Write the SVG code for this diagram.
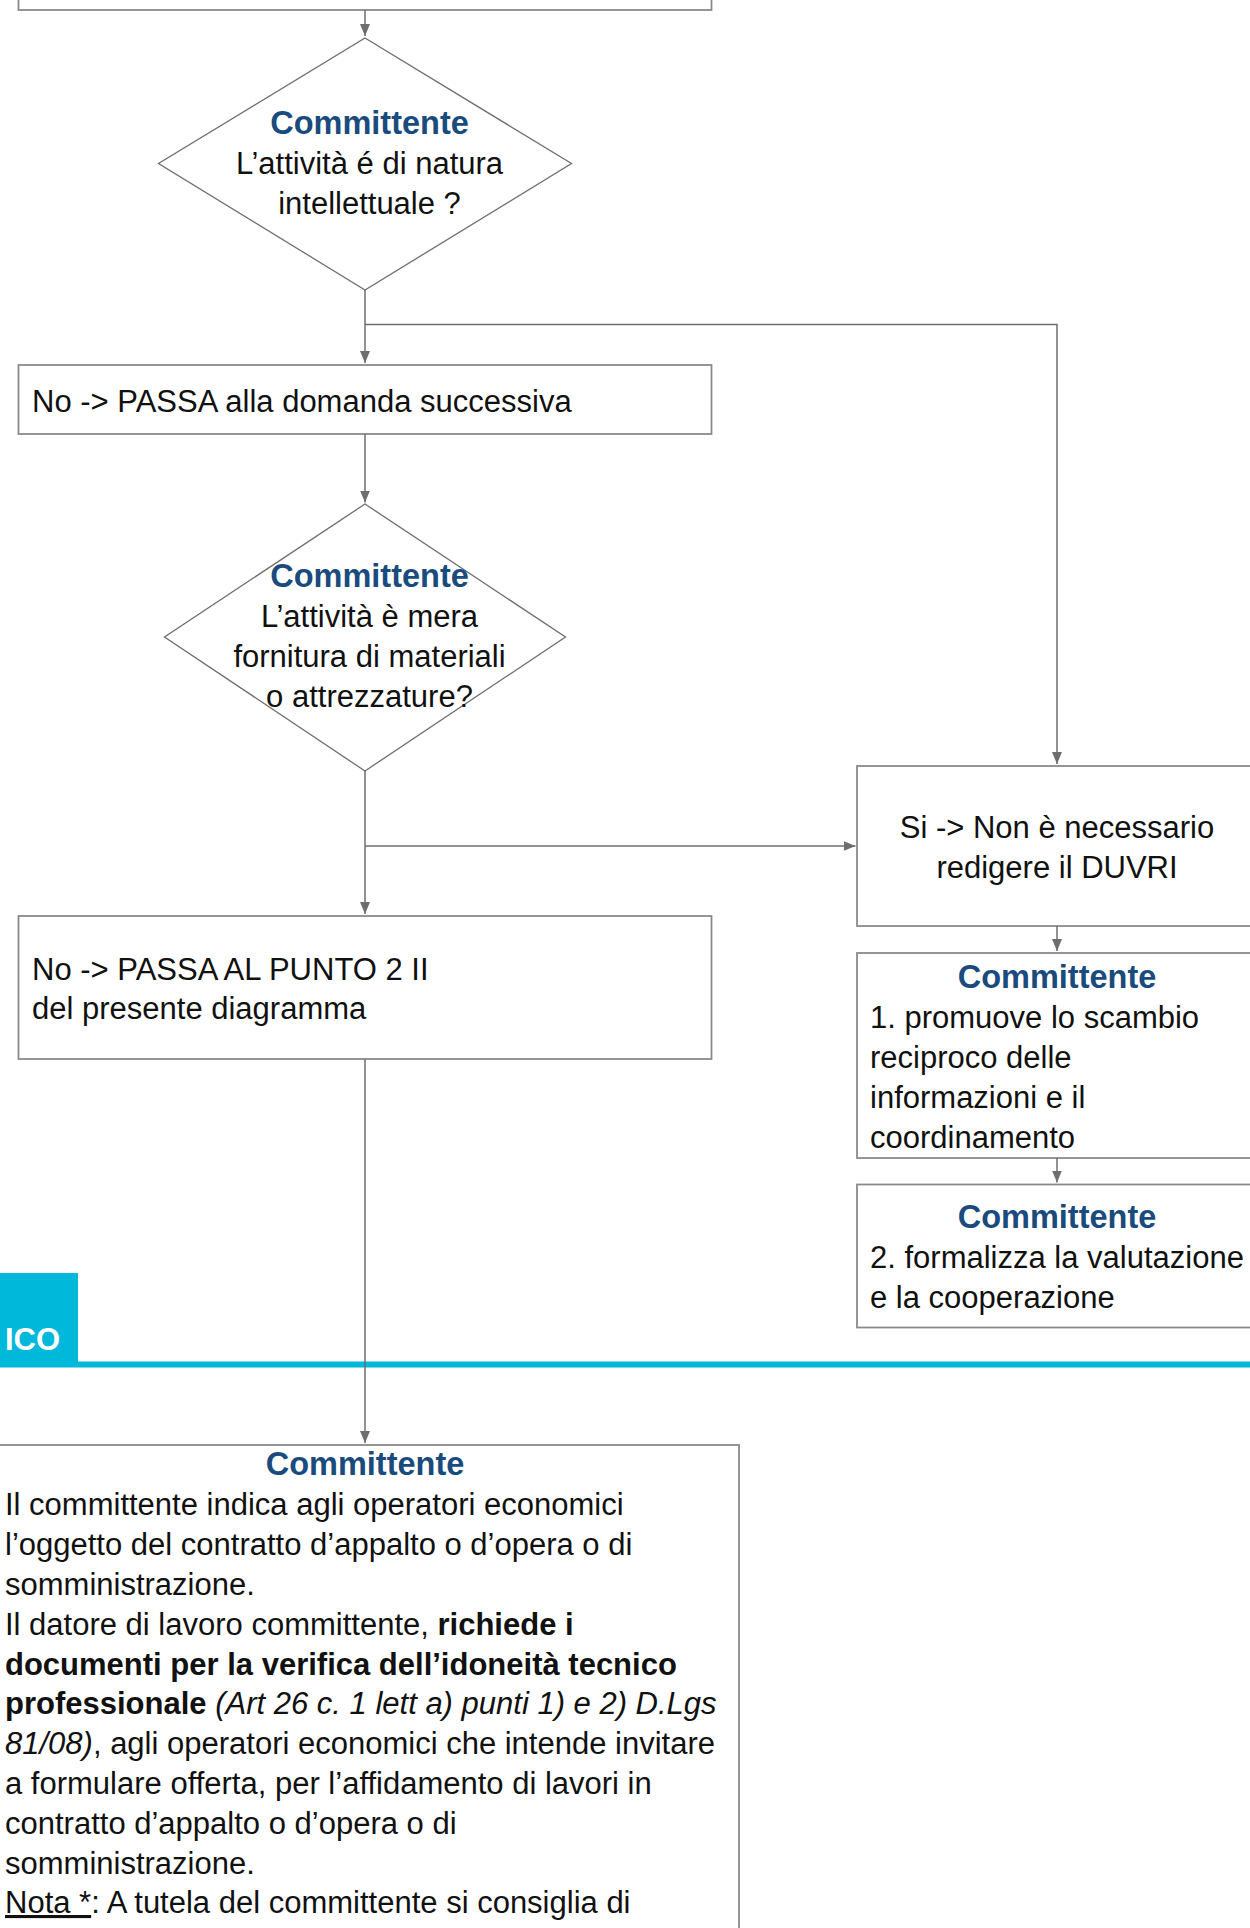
<svg xmlns="http://www.w3.org/2000/svg" width="1250" height="1928" viewBox="0 0 1250 1928">
<style>
.box{fill:#fff;stroke:#8a8a8a;stroke-width:1.8}
.dia{fill:#fff;stroke:#6e6e6e;stroke-width:1.3}
.con{fill:none;stroke:#6e6e6e;stroke-width:1.5}
.t{font-family:"Liberation Sans",Arial,sans-serif;font-size:31px;fill:#111}
.c{text-anchor:middle}
.h{font-family:"Liberation Sans",Arial,sans-serif;font-size:32.5px;font-weight:bold;fill:#1a4b7d;text-anchor:middle}
.b{font-weight:bold}
.i{font-style:italic}
</style>
<defs>
<marker id="arr" markerUnits="userSpaceOnUse" markerWidth="12" markerHeight="10" refX="12" refY="5" orient="auto">
<path d="M0,0 L12,5 L0,10 z" fill="#6e6e6e"/>
</marker>
</defs>
<g id="band">
<rect x="0" y="1273" width="78" height="92" fill="#00b8d9"/>
<rect x="0" y="1361.5" width="1250" height="6" fill="#00b8d9"/>
<text x="60" y="1350" text-anchor="end" font-family="Liberation Sans,Arial,sans-serif" font-size="31" font-weight="bold" fill="#fff">ICO</text>
</g>
<g id="top-box">
<rect class="box" x="18.5" y="-20" width="693" height="30"/>
</g>
<g id="q1">
<polygon class="dia" points="365,38 571.5,163.5 365,290 158.5,163.5"/>
<text class="h" x="369.5" y="134">Committente</text>
<text class="t c" x="369.5" y="173.5">L’attività é di natura</text>
<text class="t c" x="369.5" y="213.5">intellettuale ?</text>
</g>
<g id="no1">
<rect class="box" x="18.5" y="365" width="693" height="69"/>
<text class="t" x="32" y="412">No -&gt; PASSA alla domanda successiva</text>
</g>
<g id="q2">
<polygon class="dia" points="365,504 565.5,637 365,771 164.5,637"/>
<text class="h" x="369.5" y="587">Committente</text>
<text class="t c" x="369.5" y="627">L’attività è mera</text>
<text class="t c" x="369.5" y="667">fornitura di materiali</text>
<text class="t c" x="369.5" y="707">o attrezzature?</text>
</g>
<g id="no2">
<rect class="box" x="18.5" y="916" width="693" height="143"/>
<text class="t" x="32" y="980">No -&gt; PASSA AL PUNTO 2 II</text>
<text class="t" x="32" y="1019">del presente diagramma</text>
</g>
<g id="si">
<rect class="box" x="857" y="766" width="500" height="160"/>
<text class="t c" x="1057" y="838">Si -&gt; Non è necessario</text>
<text class="t c" x="1057" y="878">redigere il DUVRI</text>
</g>
<g id="step1">
<rect class="box" x="857" y="953" width="500" height="205"/>
<text class="h" x="1057" y="988">Committente</text>
<text class="t" x="870" y="1028">1. promuove lo scambio</text>
<text class="t" x="870" y="1068">reciproco delle</text>
<text class="t" x="870" y="1108">informazioni e il</text>
<text class="t" x="870" y="1148">coordinamento</text>
</g>
<g id="step2">
<rect class="box" x="857" y="1184.5" width="500" height="143"/>
<text class="h" x="1057" y="1228">Committente</text>
<text class="t" x="870" y="1268">2. formalizza la valutazione</text>
<text class="t" x="870" y="1308">e la cooperazione</text>
</g>
<g id="final">
<rect class="box" x="-2" y="1445" width="741" height="600"/>
<text class="h" x="365" y="1475">Committente</text>
<text class="t" x="5" y="1515">Il committente indica agli operatori economici</text>
<text class="t" x="5" y="1555">l’oggetto del contratto d’appalto o d’opera o di</text>
<text class="t" x="5" y="1595">somministrazione.</text>
<text class="t" x="5" y="1635">Il datore di lavoro committente, <tspan class="b">richiede i</tspan></text>
<text class="t b" x="5" y="1675">documenti per la verifica dell’idoneità tecnico</text>
<text class="t" x="5" y="1714"><tspan class="b">professionale</tspan> <tspan class="i">(Art 26 c. 1 lett a) punti 1) e 2) D.Lgs</tspan></text>
<text class="t" x="5" y="1754"><tspan class="i">81/08)</tspan>, agli operatori economici che intende invitare</text>
<text class="t" x="5" y="1794">a formulare offerta, per l’affidamento di lavori in</text>
<text class="t" x="5" y="1834">contratto d’appalto o d’opera o di</text>
<text class="t" x="5" y="1874">somministrazione.</text>
<text class="t" x="5" y="1913"><tspan text-decoration="underline">Nota *</tspan>: A tutela del committente si consiglia di</text>
</g>
<g id="connectors">
<path class="con" d="M365,10 V36" marker-end="url(#arr)"/>
<path class="con" d="M365,290 V363" marker-end="url(#arr)"/>
<path class="con" d="M365,324.5 H1057 V764" marker-end="url(#arr)"/>
<path class="con" d="M365,434 V502.5" marker-end="url(#arr)"/>
<path class="con" d="M365,771 V914" marker-end="url(#arr)"/>
<path class="con" d="M365,846 H855.5" marker-end="url(#arr)"/>
<path class="con" d="M365,1059 V1443" marker-end="url(#arr)"/>
<path class="con" d="M1057,926 V951" marker-end="url(#arr)"/>
<path class="con" d="M1057,1158 V1182.5" marker-end="url(#arr)"/>
</g>
</svg>
